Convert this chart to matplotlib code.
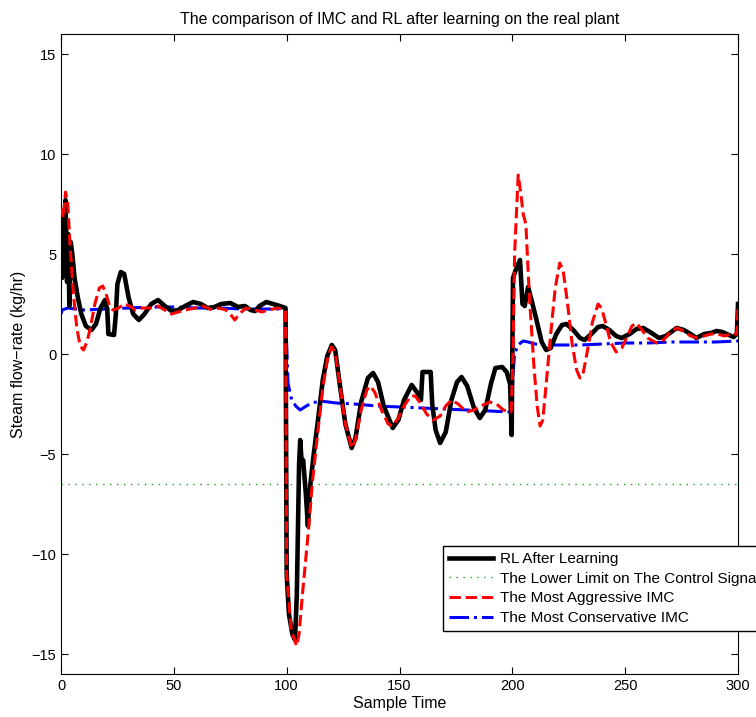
import numpy as np
import matplotlib
matplotlib.use('Agg')
import matplotlib.pyplot as plt

plt.rcParams['font.family'] = ['Liberation Sans', 'DejaVu Sans']

# RL after learning
rl_t = [0, 0.5, 1, 1.5, 2, 2.7, 3.2, 3.7, 4.3, 5, 6, 7.5, 9, 11, 13.5, 15.5, 17.5, 19.5,
        20.5, 21, 23.5, 24.3, 25, 26.5, 28, 30, 32, 34.5, 37, 40, 43, 46, 49, 52, 55,
        58.5, 62, 65, 68, 71, 75, 78.5, 81.5, 84, 86, 88, 91, 94, 97, 99.5,
        100, 101, 102.5, 103.7, 104.5, 105.5, 106, 106.7, 107.3, 108.5, 109.4, 110.5,
        112, 114, 116, 118, 120, 121.5, 123.5, 126, 128.8, 130.5, 133, 136, 138.3,
        140.5, 143, 147, 149.5, 152, 155.4, 158, 159.5, 160.2, 163.8, 164.5, 166, 168,
        170.5, 173, 175.5, 177.5, 180, 183, 185.6, 188, 190.5, 192.5, 195.5, 197.5, 199,
        199.7, 200.3, 201.5, 203.4, 204.5, 205.5, 207, 208.5, 210.5, 213, 215, 217,
        219.5, 222, 224, 227, 230, 232, 235, 238, 240, 243, 246, 248.4, 252, 255, 258,
        261, 265, 268, 272.8, 276, 279, 281.6, 285, 288, 290.5, 293, 295, 298, 299.5, 300]
rl_u = [6.5, 3.8, 6.8, 4.0, 7.7, 3.6, 6.0, 2.4, 5.6, 5.0, 3.8, 2.8, 2.0, 1.4, 1.2, 1.5, 2.3, 2.7,
        2.2, 1.0, 0.95, 2.0, 3.5, 4.1, 4.0, 2.8, 2.0, 1.7, 2.0, 2.5, 2.7, 2.4, 2.15, 2.2, 2.4,
        2.6, 2.5, 2.3, 2.35, 2.5, 2.55, 2.35, 2.4, 2.2, 2.15, 2.4, 2.6, 2.5, 2.4, 2.3,
        -11.0, -13.0, -14.0, -14.3, -12.0, -5.5, -4.3, -5.5, -5.3, -7.0, -8.6, -6.5,
        -5.0, -3.2, -1.3, -0.1, 0.45, 0.2, -1.5, -3.5, -4.7, -4.2, -2.4, -1.2, -0.95,
        -1.4, -2.6, -3.7, -3.3, -2.3, -1.55, -1.95, -2.3, -0.9, -0.9, -2.5, -3.8, -4.45,
        -3.9, -2.3, -1.4, -1.15, -1.6, -2.7, -3.2, -2.8, -1.5, -0.7, -0.65, -0.9, -1.5,
        -4.05, 3.8, 4.2, 4.7, 2.5, 2.4, 3.35, 2.7, 1.8, 0.6, 0.2, 0.3,
        1.0, 1.45, 1.5, 1.2, 0.8, 0.7, 1.0, 1.35, 1.4, 1.2, 0.9, 0.8, 1.0, 1.25, 1.3,
        1.1, 0.8, 0.9, 1.3, 1.2, 1.0, 0.8, 1.0, 1.05, 1.15, 1.1, 1.0, 0.85, 1.0, 2.5]

# most aggressive IMC
agg_t = [0, 0.5, 1, 2, 3, 4, 5.5, 7, 8.5, 10, 11.5, 13, 15, 17, 18.5, 20, 21.5, 23, 25.5,
         28, 30.5, 33, 36, 40, 43, 46, 49, 52, 55, 59.5, 63, 67, 70, 73, 75, 77, 79, 82,
         86, 89, 92, 96, 99.5, 100, 102, 104.4, 105.5, 107, 109.5, 111.5, 113.9, 116,
         118, 119.8, 121.5, 123.5, 126, 128.8, 130.5, 133, 135.5, 137, 139, 142, 145,
         147, 149.5, 152, 155, 157, 159.5, 162, 165, 168, 170.5, 173, 176, 179.7, 183,
         186, 190, 193, 196, 199.5, 200.3, 201, 202.6, 203.8, 204.8, 206, 207.5, 209.5,
         211, 212.3, 213.5, 215, 217, 219, 221, 222.5, 224.5, 226.5, 228.5, 230, 231.5,
         233.5, 235.5, 238, 239.5, 241.5, 243.5, 246, 248.5, 251, 253, 255, 257.5, 260,
         264, 267, 270, 272.8, 276, 279, 282, 285, 288, 291, 294, 297, 299.5, 300]
agg_u = [7.0, 7.2, 6.8, 8.1, 7.5, 5.5, 3.0, 1.3, 0.4, 0.2, 0.6, 1.3, 2.5, 3.3, 3.4, 3.0, 2.4,
         2.2, 2.3, 2.5, 2.4, 2.2, 2.3, 2.3, 2.4, 2.2, 2.0, 2.1, 2.2, 2.3, 2.4, 2.2, 2.3,
         2.2, 2.0, 1.7, 2.0, 2.3, 2.2, 2.1, 2.2, 2.3, 2.2, -11.0, -13.8, -14.6, -14.0,
         -12.0, -9.0, -6.3, -3.8, -1.7, -0.3, 0.35, 0.1, -1.5, -3.5, -4.7, -4.3, -2.8,
         -1.8, -1.6, -1.9, -2.8, -3.5, -3.6, -3.2, -2.6, -2.1, -2.1, -2.5, -3.0, -3.3,
         -3.1, -2.6, -2.3, -2.5, -2.9, -2.8, -2.6, -2.4, -2.5, -2.8, -2.9, 0.0, 5.0, 8.95,
         8.0, 7.0, 6.5, 3.0, -0.5, -2.6, -3.6, -3.3, -1.5, 1.0, 3.3, 4.55, 4.2, 2.5, 0.5,
         -0.8, -1.2, -0.9, 0.3, 1.6, 2.5, 2.3, 1.5, 0.6, 0.1, 0.3, 0.9, 1.4, 1.55, 1.2,
         0.8, 0.55, 0.7, 1.1, 1.3, 1.15, 0.9, 0.8, 0.9, 1.0, 1.0, 0.9, 1.0, 1.0, 2.3]

# most conservative IMC
cons_t = [0, 0.5, 3, 10, 20, 30, 40, 50, 60, 70, 80, 90, 99.5, 100, 100.6, 102, 104, 106,
          108, 111, 115, 122, 130, 140, 150, 160, 170, 180, 190, 199.5, 200.3, 201, 202.5,
          204.8, 207, 210, 215, 220, 230, 240, 250, 260, 270, 280, 290, 300]
cons_u = [2.0, 2.2, 2.3, 2.2, 2.25, 2.3, 2.35, 2.35, 2.3, 2.3, 2.25, 2.25, 2.25, 0.5, -1.45,
          -2.2, -2.6, -2.8, -2.65, -2.45, -2.35, -2.45, -2.5, -2.6, -2.65, -2.7, -2.75,
          -2.8, -2.85, -2.9, -1.0, 0.0, 0.45, 0.65, 0.6, 0.5, 0.45, 0.45, 0.45, 0.5, 0.55,
          0.55, 0.6, 0.6, 0.6, 0.65]

lower_limit = -6.5

fig = plt.figure(figsize=(7.56, 7.17), dpi=100)
ax = fig.add_axes([61/756, 1 - 674/717, 677/756, 640/717])

ax.plot(rl_t, rl_u, color='k', lw=3.3, label='RL After Learning', zorder=3,
        solid_joinstyle='round')
ax.plot([0, 300], [lower_limit, lower_limit], color=(0.1, 0.62, 0.1), lw=1.0,
        linestyle=(0, (1, 4)), label='The Lower Limit on The Control Signal')
ax.plot(agg_t, agg_u, color='r', lw=2.2, linestyle='--', label='The Most Aggressive IMC', zorder=4)
ax.plot(cons_t, cons_u, color='b', lw=2.2, linestyle='-.', label='The Most Conservative IMC', zorder=2)

ax.set_xlim(0, 300)
ax.set_ylim(-16, 16)
ax.set_xticks(np.arange(0, 301, 50))
ax.set_yticks(np.arange(-15, 16, 5))
ax.tick_params(direction='in', top=True, right=True, labelsize=10.5, length=5)
ax.set_xlabel('Sample Time', fontsize=11.5, labelpad=2)
ax.set_ylabel('Steam flow\u2212rate (kg/hr)', fontsize=11.5)
ax.set_title('The comparison of IMC and RL after learning on the real plant', fontsize=11.5, pad=7)

leg = ax.legend(loc='upper left', bbox_to_anchor=(0.5638, 0.2), borderaxespad=0,
                fancybox=False, framealpha=1, edgecolor='k', fontsize=11,
                handlelength=2.9, handletextpad=0.45, labelspacing=0.37)
leg.get_frame().set_linewidth(1.0)

fig.savefig('out.png', dpi=100)
